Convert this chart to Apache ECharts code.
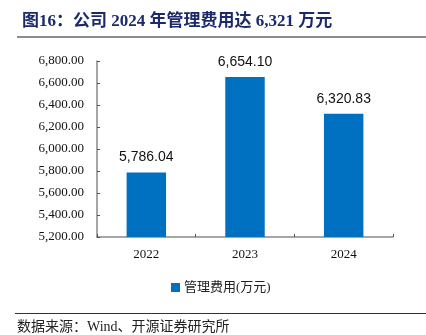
<!DOCTYPE html>
<html>
<head>
<meta charset="utf-8">
<script src="https://cdn.jsdelivr.net/npm/echarts@6/dist/echarts.min.js"></script>
<style>
  html, body { margin: 0; padding: 0; background: #fff; }
  #chart { width: 426px; height: 335px; }
</style>
</head>
<body>
<div id="chart"></div>
<script>
// Administrative expenses, 2022-2024 (unit: 10k CNY)
const categories = ['2022', '2023', '2024'];
const expenseValues = [5786.04, 6654.10, 6320.83];
const seriesName = '管理费用(万元)';
const yMin = 5200;
const yMax = 6800;
const yStep = 200;

const titleText = '图16：公司 2024 年管理费用达 6,321 万元';
const sourceText = '数据来源：Wind、开源证券研究所';

function fmt(v) {
  return Number(v).toLocaleString('en-US', { minimumFractionDigits: 2, maximumFractionDigits: 2 });
}

const chart = echarts.init(document.getElementById('chart'), null, { renderer: 'canvas' });

chart.setOption({
  backgroundColor: '#ffffff',
  animation: false,
  title: {
    text: titleText,
    left: 17,
    top: 8,
    textStyle: {
      fontFamily: '"Liberation Serif", "Noto Sans CJK SC", serif',
      fontSize: 17,
      fontWeight: 'bold',
      color: '#1b2a6b'
    }
  },
  graphic: [
    {
      type: 'rect',
      shape: { x: 17, y: 36, width: 409, height: 2 },
      style: { fill: '#8c8c8c' }
    },
    {
      type: 'rect',
      shape: { x: 15, y: 313, width: 411, height: 1 },
      style: { fill: '#333333' }
    },
    {
      type: 'text',
      left: 17,
      top: 320,
      style: {
        text: sourceText,
        font: '14px "Liberation Serif", "Noto Sans CJK SC", serif',
        fill: '#222222'
      }
    }
  ],
  legend: {
    data: [seriesName],
    left: 166,
    top: 276,
    itemWidth: 9,
    itemHeight: 9,
    itemGap: 4,
    icon: 'rect',
    textStyle: {
      fontFamily: '"Liberation Serif", "Noto Sans CJK SC", serif',
      fontSize: 13,
      color: '#222222',
      padding: [0, 0, 0, -1]
    }
  },
  grid: {
    left: 97,
    right: 33,
    top: 61,
    bottom: 98,
    containLabel: false
  },
  xAxis: {
    type: 'category',
    data: categories,
    axisLine: { lineStyle: { color: '#898989', width: 1.5 } },
    axisTick: { show: true, inside: true, length: 3, lineStyle: { color: '#555' } },
    axisLabel: {
      margin: 11,
      fontFamily: '"Liberation Serif", serif',
      fontSize: 13,
      color: '#111'
    }
  },
  yAxis: {
    type: 'value',
    min: yMin,
    max: yMax,
    interval: yStep,
    axisLine: { show: true, lineStyle: { color: '#898989', width: 1.5 } },
    axisTick: { show: true, inside: true, length: 3, lineStyle: { color: '#555' } },
    splitLine: { show: false },
    axisLabel: {
      margin: 13,
      fontFamily: '"Liberation Serif", serif',
      fontSize: 13,
      color: '#111',
      formatter: fmt
    }
  },
  series: [
    {
      name: seriesName,
      type: 'bar',
      data: expenseValues,
      barWidth: '40%',
      itemStyle: { color: '#0070c0' },
      label: {
        show: true,
        position: 'top',
        distance: 8,
        fontFamily: '"Liberation Sans", Arial, sans-serif',
        fontSize: 14,
        color: '#111',
        formatter: p => fmt(p.value)
      }
    }
  ]
});
</script>
</body>
</html>
